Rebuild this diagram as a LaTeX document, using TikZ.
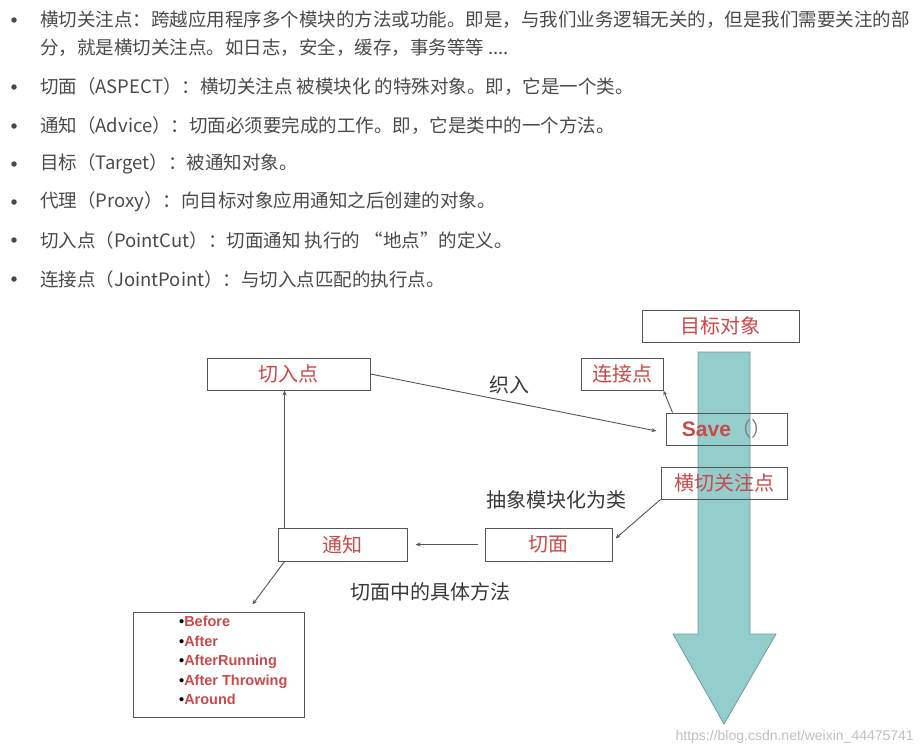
\documentclass[tikz,border=0pt]{standalone}
\usepackage{fontspec}
\setmainfont{Noto Sans CJK SC}
\newfontfamily\arialb{Liberation Sans}[BoldFont={Liberation Sans Bold}]
\usetikzlibrary{arrows.meta,calc}
\definecolor{txt}{HTML}{4A4A4A}
\definecolor{lbl}{HTML}{C94A4A}
\definecolor{bx}{HTML}{555555}
\definecolor{teal1}{HTML}{93CDCC}
\definecolor{teal2}{HTML}{6E9E9C}
\begin{document}
\begin{tikzpicture}[x=1pt,y=-1pt,
  line/.style={font=\fontsize{18.5}{20}\selectfont,text=txt,anchor=west,inner sep=0pt},
  dot/.style={circle,fill=txt,inner sep=0pt,minimum size=5.5pt},
  box/.style={draw=bx,line width=1pt,rectangle,inner sep=0pt,text=lbl,font=\fontsize{20}{22}\selectfont},
  arr/.style={draw=bx,line width=0.9pt,-{Stealth[length=5pt,width=4pt]}},
  captxt/.style={text=black!78,font=\fontsize{20}{22}\selectfont,inner sep=0pt}]
\useasboundingbox (0,0) rectangle (924,755);
% bullet list text
\node[dot] (b1) at (14,20) {};
\node[line] (l1) at (40,20) {横切关注点：跨越应用程序多个模块的方法或功能。即是，与我们业务逻辑无关的，但是我们需要关注的部};
\node[line] (l1b) at (40,48) {分，就是横切关注点。如日志，安全，缓存，事务等等 ....};
\node[dot] (b2) at (14,87) {};
\node[line] (l2) at (40,87) {切面（ASPECT）：横切关注点 被模块化 的特殊对象。即，它是一个类。};
\node[dot] (b3) at (14,126) {};
\node[line] (l3) at (40,126) {通知（Advice）：切面必须要完成的工作。即，它是类中的一个方法。};
\node[dot] (b4) at (14,164) {};
\node[line] (l4) at (40,164) {目标（Target）：被通知对象。};
\node[dot] (b5) at (14,202) {};
\node[line] (l5) at (40,202) {代理（Proxy）：向目标对象应用通知之后创建的对象。};
\node[dot] (b6) at (14,240) {};
\node[line] (l6) at (40,240) {切入点（PointCut）：切面通知 执行的 “地点”的定义。};
\node[dot] (b7) at (14,279) {};
\node[line] (l7) at (40,279) {连接点（JointPoint）：与切入点匹配的执行点。};
% big teal arrow
\draw[fill=teal1,draw=teal2,line width=0.8pt,line join=miter]
  (698,352) -- (750,352) -- (750,634) -- (776,634) -- (724,724) -- (673,634) -- (698,634) -- cycle;
% boxes
\node[box,minimum width=157pt,minimum height=32pt] (mb) at (720.5,326) {目标对象};
\node[box,minimum width=163pt,minimum height=32pt] (qr) at (288.5,374) {切入点};
\node[box,minimum width=82pt,minimum height=32pt] (lj) at (622,374) {连接点};
\node[box,minimum width=121pt,minimum height=32pt] (sv) at (726.5,429) {{\arialb\bfseries\fontsize{21}{22}\selectfont Save}\textcolor{gray}{（）}};
\node[box,minimum width=126pt,minimum height=32pt] (hq) at (724,483) {横切关注点};
\node[box,minimum width=127pt,minimum height=33pt] (qm) at (548.5,544.5) {切面};
\node[box,minimum width=129pt,minimum height=33pt] (tz) at (342.5,544.5) {通知};
\node[box,minimum width=171pt,minimum height=105pt] (ls) at (218.5,664.5) {};
\node[anchor=north west,inner sep=0pt,align=left,font=\arialb\bfseries\fontsize{14.5}{19.5}\selectfont,text=lbl] (lt) at (179,616)
 {\textcolor{black}{\textbullet}Before\\\textcolor{black}{\textbullet}After\\\textcolor{black}{\textbullet}AfterRunning\\\textcolor{black}{\textbullet}After Throwing\\\textcolor{black}{\textbullet}Around};
% captions
\node[captxt] (c1) at (509,385) {织入};
\node[captxt] (c2) at (556,500) {抽象模块化为类};
\node[captxt] (c3) at (430,592) {切面中的具体方法};
% connectors
\draw[arr] ([xshift=7pt]tz.north west) -- ([xshift=7pt]tz.north west |- qr.south);
\draw[arr] (qr.east) -- ([xshift=-9pt,yshift=-2pt]sv.west);
\draw[arr] ([xshift=7pt]sv.north west) -- (lj.south east);
\draw[arr] (hq.south west) -- ([xshift=3pt,yshift=6pt]qm.east);
\draw[arr] ([xshift=-7pt]qm.west) -- ([xshift=8pt]tz.east);
\draw[arr] ([xshift=7pt]tz.south west) -- ([xshift=34pt,yshift=7pt]ls.north);
% watermark
\node[anchor=east,inner sep=0pt,text=black!25,font=\arialb\fontsize{14}{16}\selectfont] (wm) at (914,737) {https://blog.csdn.net/weixin\_44475741};
\end{tikzpicture}
\end{document}
